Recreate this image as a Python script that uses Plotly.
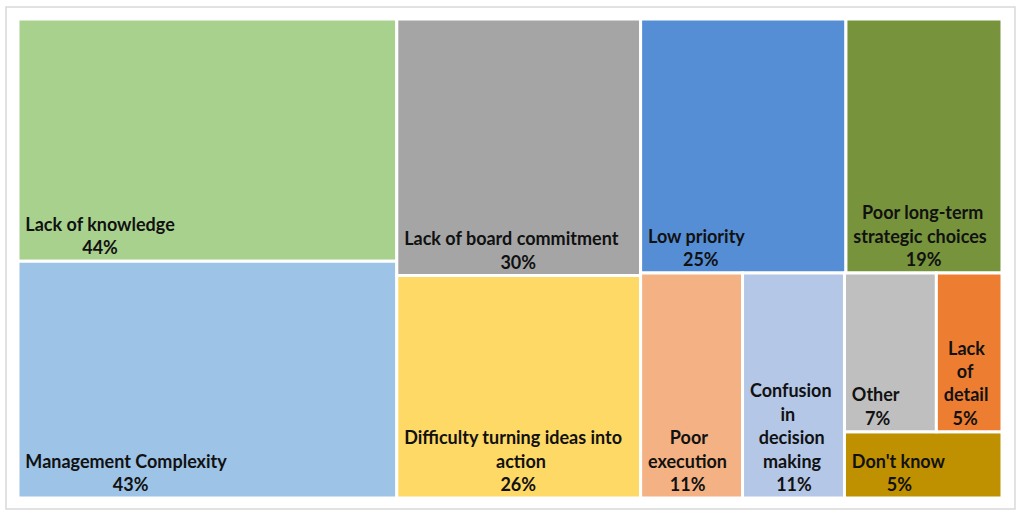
import plotly.graph_objects as go

NB = "\u00a0"

# Leaf categories and their values (%)
categories = ["Lack of knowledge", "Management Complexity",
              "Lack of board commitment", "Difficulty turning ideas into action",
              "Low priority", "Poor long-term strategic choices",
              "Poor execution", "Confusion in decision making",
              "Other", "Lack of detail", "Don't know"]
values = [44, 43, 30, 26, 25, 19, 11, 11, 7, 5, 5]
colors = ["#A9D18E", "#9DC3E6", "#A5A5A5", "#FFD966", "#558ED5", "#77933C",
          "#F4B183", "#B4C7E7", "#BFBFBF", "#ED7D31", "#BF9000"]

# Label lines as wrapped in the tiles, with per-line centring indents (in spaces)
label_lines = [["Lack of knowledge"], ["Management Complexity"],
               ["Lack of board commitment"], ["Difficulty turning ideas into", "action"],
               ["Low priority"], ["Poor long-term", "strategic choices"],
               ["Poor", "execution"], ["Confusion", "in", "decision", "making"],
               ["Other"], ["Lack", "of", "detail"], ["Don't know"]]
line_indent = [[0, 13], [0, 20], [0, 22], [0, 21, 22], [0, 8], [2, 0, 12],
               [5, 0, 5], [0, 7, 2, 3, 6], [0, 3], [1, 3, 0, 2], [0, 8]]

# Excel-like block structure (slice / dice nesting)
node_ids = ["root", "g1", categories[0], categories[1],
            "g2", categories[2], categories[3],
            "g3", "g3a", categories[4], categories[5],
            "g3b", categories[6], categories[7],
            "g3c", "g3d", categories[8], categories[9], categories[10]]
node_parents = ["", "root", "g1", "g1",
                "root", "g2", "g2",
                "root", "g3", "g3a", "g3a",
                "g3", "g3b", "g3b",
                "g3b", "g3c", "g3d", "g3d", "g3c"]

vals, texts, cols, lw = [], [], [], []
for nid in node_ids:
    if nid in categories:
        i = categories.index(nid)
        lines = label_lines[i] + [f"{values[i]}%"]
        text = "<br>".join(NB * (1 + n) + s for s, n in zip(lines, line_indent[i]))
        vals.append(values[i]); texts.append(text); cols.append(colors[i]); lw.append(3)
    else:
        vals.append(0); texts.append(""); cols.append("rgba(0,0,0,0)"); lw.append(0)

fig = go.Figure(go.Treemap(
    ids=node_ids, labels=node_ids, parents=node_parents, values=vals,
    branchvalues="remainder", sort=False,
    text=texts, texttemplate="%{text}", textinfo="text",
    textposition="bottom left",
    marker=dict(colors=cols, line=dict(color="white", width=lw),
                pad=dict(t=0, l=0, r=0, b=0)),
    tiling=dict(packing="slice-dice", pad=0),
    pathbar=dict(visible=False),
    insidetextfont=dict(family="Lato", size=18, color="#111111", weight="bold"),
    hoverinfo="skip",
    root=dict(color="rgba(0,0,0,0)"),
))

fig.update_layout(
    width=1026, height=520,
    margin=dict(l=18, r=24, t=19, b=22),
    paper_bgcolor="white",
    shapes=[dict(type="rect", xref="paper", yref="paper", x0=-0.0122, x1=1.0132,
                 y0=-0.023, y1=1.025, line=dict(color="#D9D9D9", width=1.5))],
)

fig.write_html("out.html", config={"displayModeBar": False},
               post_script="document.body.style.margin='0px';")
